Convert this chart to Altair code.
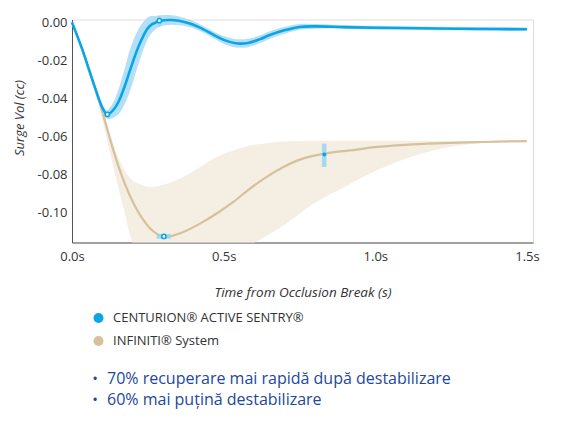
import altair as alt
import pandas as pd

# ---------------- data ----------------
SERIES = ["CENTURION® ACTIVE SENTRY®", "INFINITI® System"]

# CENTURION ACTIVE SENTRY (blue) - centre line and band
c_t  = [0, 0.033, 0.055, 0.077, 0.099, 0.115, 0.125, 0.14, 0.155, 0.175, 0.192, 0.22, 0.247, 0.262, 0.275,
        0.288, 0.33, 0.38, 0.42, 0.47, 0.50, 0.54, 0.58, 0.62, 0.65, 0.70, 0.75, 0.80, 0.90, 1.00, 1.20, 1.40,
        1.50]
c_y  = [0, -0.0138, -0.0243, -0.0348, -0.0444, -0.0483, -0.0477, -0.0452, -0.0411, -0.033, -0.0248, -0.0124,
        -0.0037, -0.0012, -0.0002, 0.0007, 0.0012, -0.0002, -0.0026, -0.0068, -0.0092, -0.011, -0.0108,
        -0.0088, -0.0068, -0.0042, -0.0024, -0.0021, -0.0025, -0.0028, -0.0032, -0.0035, -0.0036]
c_lo = [0, -0.0146, -0.0255, -0.0364, -0.0464, -0.0505, -0.0507, -0.0497, -0.0479, -0.0425, -0.0358, -0.0214,
        -0.0097, -0.0057, -0.0037, -0.0023, -0.0013, -0.0022, -0.0044, -0.0086, -0.0112, -0.0132, -0.013,
        -0.0108, -0.0088, -0.006, -0.0039, -0.0033, -0.0035, -0.0038, -0.0041, -0.0044, -0.0045]
c_hi = [0, -0.013, -0.0231, -0.0332, -0.0424, -0.0461, -0.0447, -0.0407, -0.0343, -0.0235, -0.0138, -0.0034,
        0.0023, 0.0033, 0.0033, 0.0037, 0.0037, 0.0018, -0.0008, -0.005, -0.0072, -0.0088, -0.0086, -0.0068,
        -0.0048, -0.0024, -0.0009, -0.0009, -0.0015, -0.0018, -0.0023, -0.0026, -0.0027]

# INFINITI System (tan) - centre line
i_t = [0, 0.033, 0.055, 0.077, 0.10, 0.125, 0.15, 0.175, 0.20, 0.23, 0.257, 0.28, 0.303, 0.33, 0.367, 0.422,
       0.477, 0.532, 0.587, 0.642, 0.697, 0.752, 0.831, 0.916, 1.00, 1.10, 1.20, 1.30, 1.40, 1.50]
i_y = [0, -0.0138, -0.0243, -0.035, -0.047, -0.061, -0.074, -0.085, -0.094, -0.1025, -0.108, -0.111, -0.1127,
       -0.112, -0.110, -0.1056, -0.1003, -0.0942, -0.0872, -0.0811, -0.0759, -0.072, -0.0689, -0.0672,
       -0.0655, -0.0643, -0.0635, -0.063, -0.0626, -0.0623]
# INFINITI System band
ib_t  = [0, 0.033, 0.055, 0.077, 0.10, 0.125, 0.15, 0.175, 0.20, 0.257, 0.312, 0.367, 0.422, 0.477, 0.532,
         0.587, 0.642, 0.70, 0.80, 0.90, 1.00, 1.10, 1.20, 1.31, 1.42, 1.50]
ib_hi = [0, -0.0138, -0.0243, -0.034, -0.044, -0.058, -0.070, -0.078, -0.083, -0.0864, -0.0847, -0.0811,
         -0.0759, -0.0707, -0.0672, -0.0646, -0.0634, -0.0625, -0.0621, -0.0621, -0.0621, -0.0621, -0.0622,
         -0.0622, -0.0622, -0.0622]
ib_lo = [0, -0.0138, -0.0245, -0.036, -0.051, -0.068, -0.085, -0.101, -0.116, -0.134, -0.143, -0.146, -0.144,
         -0.137, -0.128, -0.1175, -0.112, -0.1063, -0.0948, -0.0862, -0.078, -0.0715, -0.0668, -0.064,
         -0.0628, -0.0624]

# end values used for the legend layer (last point of each series)
leg_t = [1.50, 1.50]
leg_y = [-0.0036, -0.0623]

# highlighted points
mk_t = [0.1165, 0.288, 0.303]
mk_y = [-0.0483, 0.0009, -0.1123]
glow_t0 = [0.283, 0.279, 0.824]
glow_t1 = [0.292, 0.325, 0.839]
glow_y0 = [0.0032, -0.111, -0.0636]
glow_y1 = [-0.0022, -0.1135, -0.0759]
dot_t = [0.832]
dot_y = [-0.0693]

x_ticks = [0, 0.5, 1.0, 1.5]
y_ticks = [0, -0.02, -0.04, -0.06, -0.08, -0.10]

bullets = ["70% recuperare mai rapidă după destabilizare", "60% mai puțină destabilizare"]

# ---------------- frames ----------------
c_df = pd.DataFrame({"t": c_t, "y": c_y, "lo": c_lo, "hi": c_hi})
i_df = pd.DataFrame({"t": i_t, "y": i_y})
ib_df = pd.DataFrame({"t": ib_t, "lo": ib_lo, "hi": ib_hi})
leg_df = pd.DataFrame({"t": leg_t, "y": leg_y, "s": SERIES})
mk_df = pd.DataFrame({"t": mk_t, "y": mk_y})
glow_df = pd.DataFrame({"t0": glow_t0, "t1": glow_t1, "y0": glow_y0, "y1": glow_y1})
dot_df = pd.DataFrame({"t": dot_t, "y": dot_y})

BLUE = "#0aa5e8"
BLUE_BAND = "#a6dbf5"
TAN = "#d6c19c"
TAN_BAND = "#f4eee3"
TEXT = "#333333"
FONT = "Open Sans"
INTERP = "catmull-rom"

xs = alt.Scale(domain=[0, 1.52], nice=False, zero=False)
ys = alt.Scale(domain=[-0.1155, 0.0015], nice=False, zero=False)

xaxis = alt.Axis(values=x_ticks, labelExpr="format(datum.value, '.1f') + 's'", ticks=False, tickSize=0,
                 grid=False, domainColor="#555555", domainWidth=1, labelColor=TEXT, labelFontSize=13,
                 labelFont=FONT, labelPadding=8, labelFlush=False,
                 title="Time from Occlusion Break (s)", titleFont=FONT, titleFontSize=13.5,
                 titleFontStyle="italic", titleFontWeight="normal", titleColor=TEXT,
                 titleY=49.5, titleBaseline="middle")
yaxis = alt.Axis(values=y_ticks, labelExpr="(datum.value < 0 ? '-' : '') + format(abs(datum.value), '.2f')",
                 ticks=False, tickSize=0, grid=False, domainColor="#555555", domainWidth=1,
                 labelColor=TEXT, labelFontSize=13, labelFont=FONT, labelPadding=5,
                 title="Surge Vol (cc)", titleFont=FONT, titleFontSize=13, titleFontStyle="italic",
                 titleFontWeight="normal", titleColor=TEXT, titleX=-53, titleY=98,
                 titleBaseline="middle", titleAlign="center", titleAngle=-90)

XT = "Time from Occlusion Break (s)"
YT = "Surge Vol (cc)"


def X(f):
    return alt.X(f, type="quantitative", scale=xs, axis=xaxis, title=XT)


def Y(f):
    return alt.Y(f, type="quantitative", scale=ys, axis=yaxis, title=YT)


color = alt.Color("s:N", scale=alt.Scale(domain=SERIES, range=[BLUE, TAN]),
                  legend=alt.Legend(title=None, orient="none", legendX=20, legendY=292,
                                    symbolType="circle", symbolSize=100, symbolStrokeWidth=0,
                                    symbolOpacity=1,
                                    labelFont=FONT, labelFontSize=13, labelColor=TEXT, labelOffset=8,
                                    rowPadding=9, labelLimit=400, padding=0))

tan_band = alt.Chart(ib_df).mark_area(color=TAN_BAND, interpolate=INTERP, clip=True).encode(
    x=X("t"), y=Y("lo"), y2="hi")
tan_line = alt.Chart(i_df).mark_line(color=TAN, strokeWidth=2.2, interpolate=INTERP).encode(
    x=X("t"), y=Y("y"))
blue_band = alt.Chart(c_df).mark_area(color=BLUE_BAND, opacity=0.85, interpolate=INTERP).encode(
    x=X("t"), y=Y("lo"), y2="hi")
blue_line = alt.Chart(c_df).mark_line(color=BLUE, strokeWidth=2.6, interpolate=INTERP).encode(
    x=X("t"), y=Y("y"))
legend_layer = alt.Chart(leg_df).mark_point(shape="circle", filled=True, size=0, opacity=1).encode(
    x=X("t"), y=Y("y"), color=color)
glows = alt.Chart(glow_df).mark_rect(color="#8fd4f4", opacity=0.8).encode(
    x=X("t0"), x2="t1", y=Y("y0"), y2="y1")
markers = alt.Chart(mk_df).mark_point(shape="circle", filled=True, fill="white", stroke=BLUE,
                                      strokeWidth=1.6, size=18, opacity=1).encode(x=X("t"), y=Y("y"))
dot = alt.Chart(dot_df).mark_point(shape="circle", filled=True, color=BLUE, size=16, opacity=1).encode(
    x=X("t"), y=Y("y"))

text_layers = []
for i, (line, yy) in enumerate(zip(bullets, [359.5, 380.5])):
    d = pd.DataFrame({"txt": [line], "b": ["•"]})
    text_layers.append(alt.Chart(d).mark_text(align="center", baseline="middle", font=FONT, fontSize=15,
                                              color="#22479e").encode(
        text="b:N", x=alt.value(23), y=alt.value(yy)))
    text_layers.append(alt.Chart(d).mark_text(align="left", baseline="middle", font=FONT, fontSize=16,
                                              color="#22479e").encode(
        text="txt:N", x=alt.value(35), y=alt.value(yy)))

chart = alt.layer(tan_band, tan_line, blue_band, blue_line, legend_layer, glows, markers, dot,
                  *text_layers).properties(
    width=461, height=223,
    autosize=alt.AutoSizeParams(type="none"),
    padding={"left": 64, "top": 11.5, "right": 29, "bottom": 173},
).configure_view(stroke=None).configure(font=FONT)

chart.save("out.html", embed_options={"renderer": "svg", "actions": False})
